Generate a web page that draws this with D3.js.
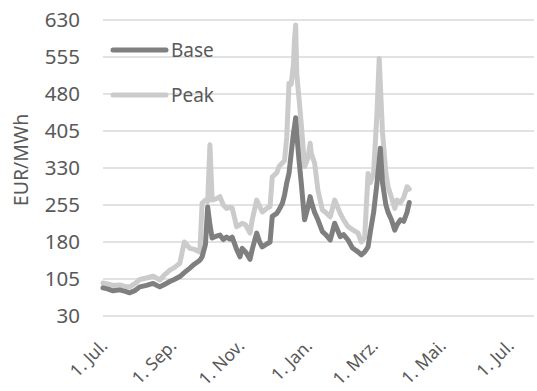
<!DOCTYPE html>
<html><head><meta charset="utf-8">
<script src="https://cdn.jsdelivr.net/npm/d3@7"></script>
<style>body{margin:0;background:#fff}svg{display:block}text{font-family:"Noto Sans",sans-serif;fill:#595959}</style>
</head><body><svg id="c" width="537" height="391"></svg>
<script>
const dates = ["2021-07-01","2021-07-05","2021-07-10","2021-07-16","2021-07-21","2021-07-25","2021-07-30","2021-08-03","2021-08-09","2021-08-15","2021-08-21","2021-08-26","2021-08-30","2021-09-03","2021-09-08","2021-09-12","2021-09-17","2021-09-21","2021-09-26","2021-09-28","2021-10-01","2021-10-03","2021-10-05","2021-10-07","2021-10-11","2021-10-14","2021-10-17","2021-10-20","2021-10-23","2021-10-25","2021-10-29","2021-11-01","2021-11-03","2021-11-06","2021-11-10","2021-11-12","2021-11-16","2021-11-19","2021-11-21","2021-11-25","2021-11-28","2021-11-30","2021-12-04","2021-12-06","2021-12-09","2021-12-11","2021-12-13","2021-12-15","2021-12-17","2021-12-19","2021-12-20","2021-12-21","2021-12-22","2021-12-24","2021-12-26","2021-12-29","2022-01-01","2022-01-03","2022-01-04","2022-01-07","2022-01-10","2022-01-14","2022-01-17","2022-01-21","2022-01-25","2022-01-30","2022-02-02","2022-02-06","2022-02-10","2022-02-15","2022-02-18","2022-02-21","2022-02-24","2022-02-26","2022-03-01","2022-03-04","2022-03-06","2022-03-07","2022-03-09","2022-03-12","2022-03-14","2022-03-17","2022-03-20","2022-03-22","2022-03-25","2022-03-28","2022-03-31","2022-04-02"];
const base = [87,85,81,83,80,77,82,89,92,96,89,95,100,104,110,118,127,135,143,150,175,251,215,188,192,194,185,190,186,190,165,150,167,160,145,165,198,178,170,176,180,232,238,245,258,275,300,319,360,400,415,432,400,346,300,225,250,272,262,240,225,201,195,184,218,191,195,184,168,160,154,160,170,200,240,299,345,370,300,255,240,225,204,215,225,222,240,260];
const peak = [97,95,92,93,90,89,96,104,107,111,103,115,123,128,137,180,167,165,160,259,265,262,377,265,268,272,255,248,250,249,211,215,218,215,198,225,265,250,241,248,252,312,320,333,340,345,393,502,500,540,590,620,520,471,420,333,350,380,360,340,285,245,240,231,265,238,225,211,205,198,180,190,319,300,320,441,552,500,401,320,292,270,248,265,260,270,292,287];
const seriesNames = ["Base","Peak"];
const yTicks = [30,105,180,255,330,405,480,555,630];
const xTickDates = ["2021-07-01","2021-09-01","2021-11-01","2022-01-01","2022-03-01","2022-05-01","2022-07-01"];
const monthNames = ["Jan.","Feb.","Mrz.","Apr.","Mai.","Jun.","Jul.","Aug.","Sep.","Okt.","Nov.","Dez."];
const yTitle = "EUR/MWh";

const parse = d3.utcParse("%Y-%m-%d");
const svg = d3.select("#c");
const x = d3.scaleUtc().domain([parse("2021-07-01"), parse("2022-07-23")]).range([103, 534]);
const y = d3.scaleLinear().domain([30, 630]).range([316, 20]);
const FONT = '"Noto Sans",sans-serif';

// gridlines
svg.append("g").selectAll("line").data(yTicks).join("line")
  .attr("x1", 103).attr("x2", 534)
  .attr("y1", d => y(d)).attr("y2", d => y(d))
  .attr("stroke", "#d9d9d9").attr("stroke-width", 1.5);

// y axis labels
const yAxis = d3.axisLeft(y).tickValues(yTicks).tickSize(0).tickPadding(0);
const gy = svg.append("g").attr("transform", "translate(80,0)").call(yAxis);
gy.select(".domain").remove();
gy.selectAll("text").attr("font-size", 20.5).attr("fill", "#595959").style("font-family", FONT);

// x axis labels
const xAxis = d3.axisBottom(x).tickValues(xTickDates.map(parse)).tickSize(0)
  .tickFormat(d => "1. " + monthNames[d.getUTCMonth()]);
const gx = svg.append("g").attr("transform", "translate(0,316)").call(xAxis);
gx.select(".domain").remove();
gx.selectAll("text").attr("font-size", 17.5).attr("fill", "#595959").style("font-family", FONT)
  .attr("text-anchor", "end").attr("dy", null).attr("y", 0)
  .attr("transform", "translate(5,31) rotate(-45)");

// y title
svg.append("text").attr("transform", "translate(28,160) rotate(-90)")
  .attr("text-anchor", "middle").attr("font-size", 19.5).text(yTitle);

const pts = (vals) => dates.map((d, i) => [parse(d), vals[i]]);
const line = d3.line().x(d => x(d[0])).y(d => y(d[1]));
const colors = {Base: "#7f7f7f", Peak: "#cbcbcb"};

svg.append("path").datum(pts(peak)).attr("d", line).attr("fill", "none")
  .attr("stroke", colors.Peak).attr("stroke-width", 5).attr("stroke-linejoin", "round").attr("stroke-linecap", "round");
svg.append("path").datum(pts(base)).attr("d", line).attr("fill", "none")
  .attr("stroke", colors.Base).attr("stroke-width", 5).attr("stroke-linejoin", "round").attr("stroke-linecap", "round");

// legend
const leg = svg.append("g");
seriesNames.forEach((n, i) => {
  const yy = 50 + i * 45;
  leg.append("line").attr("x1", 113).attr("x2", 166).attr("y1", yy).attr("y2", yy)
    .attr("stroke", colors[n]).attr("stroke-width", 5).attr("stroke-linecap", "round");
  leg.append("text").attr("x", 171).attr("y", yy).attr("dy", "0.35em").attr("font-size", 19).text(n);
});
</script></body></html>
